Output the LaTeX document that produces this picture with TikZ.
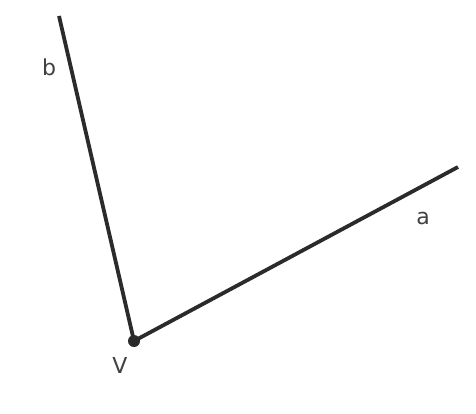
\documentclass[tikz,border=0pt]{standalone}
\usepackage{fontspec}
\setmainfont{DejaVu Sans}
\definecolor{ink}{HTML}{2B2B2B}
\begin{document}
\begin{tikzpicture}[x=1pt,y=-1pt,
  ray/.style={draw=ink,line width=3.8pt},
  lbl/.style={text=ink!90,font=\fontsize{22}{25}\selectfont,inner sep=0pt}]
\useasboundingbox (0,0) rectangle (476,413);
\coordinate (V) at (134,341);
\coordinate (B) at (59,16);
\coordinate (A) at (458,167);
\draw[ray] (B) -- (V) -- (A);
\fill[ink] (V) circle (6);
\node[lbl] (lb) at (49,67) {b};
\node[lbl] (la) at (423,218) {a};
\node[lbl] (lv) at (120,365) {V};
\end{tikzpicture}
\end{document}
